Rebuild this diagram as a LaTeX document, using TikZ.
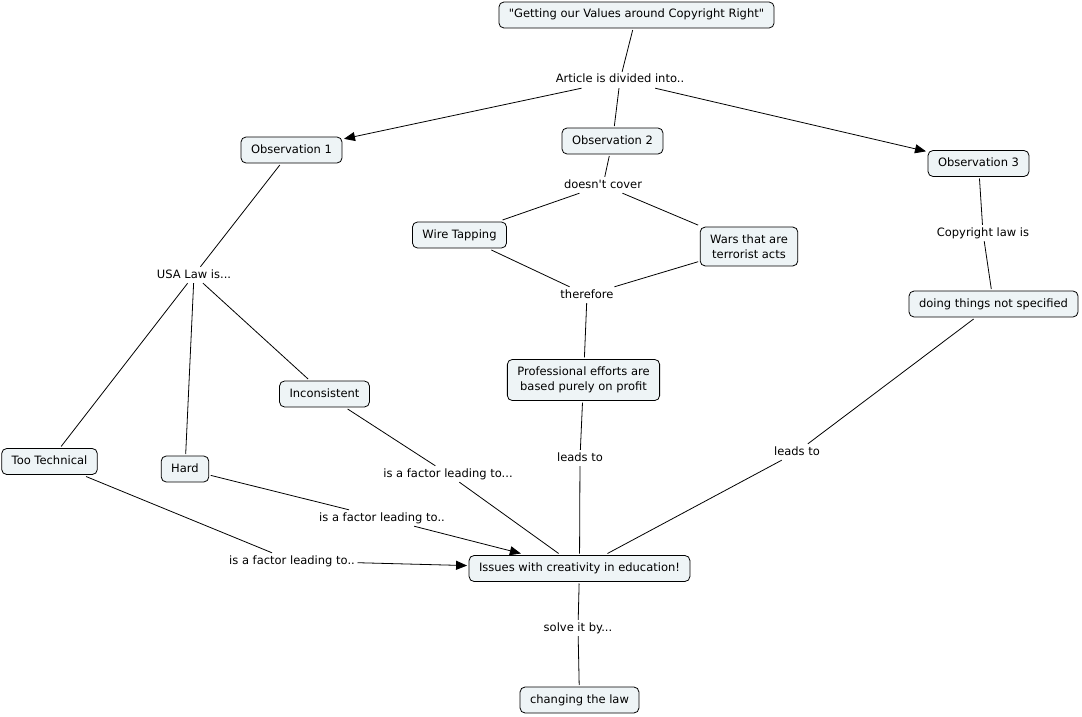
\documentclass[tikz,border=0pt]{standalone}
\usepackage{fontspec}
\setmainfont{DejaVu Sans}
\usepackage{xcolor}
\usetikzlibrary{arrows.meta}
\definecolor{conceptfill}{RGB}{238,244,246}

\begin{document}
\begin{tikzpicture}
[x=1pt, y=-1pt, font=\fontsize{11.5}{15}\selectfont,
    conceptbox/.style={rectangle, rounded corners=5pt, draw=black, fill=conceptfill,
    line width=0.8pt, inner xsep=10pt, inner ysep=7.5pt, align=center, outer sep=2pt},
    concept/.style={conceptbox, text height=8.5pt, text depth=2.5pt},
    phrase/.style={inner sep=2.5pt, text height=8.5pt, text depth=2.5pt},
    link/.style={draw=black, line width=0.8pt},
    arrow/.style={link, -{Triangle[length=11pt, width=9pt]}}
    ]
    \useasboundingbox (0,0) rectangle (1082,717);

    \node[concept] (title) at (636.5,15) {\textquotedbl Getting our Values around Copyright Right\textquotedbl};
    \node[phrase] (divided) at (620,80) {Article is divided into..};
    \node[concept] (obsA) at (291.5,150) {Observation 1};
    \node[concept] (obsB) at (612.5,141) {Observation 2};
    \node[concept] (obsC) at (978.5,163.5) {Observation 3};
    \node[phrase] (cover) at (603,185) {doesn\textquotesingle t cover};
    \node[concept] (wire) at (459.5,235) {Wire Tapping};
    \node[conceptbox] (wars) at (749,246.5) {Wars that are\\ terrorist acts};
    \node[phrase] (therefore) at (587,295) {therefore};
    \node[conceptbox] (profit) at (583.5,380) {Professional efforts are\\ based purely on profit};
    \node[phrase] (copylaw) at (983,233) {Copyright law is};
    \node[concept] (notspec) at (993.5,304) {doing things not specified};
    \node[phrase] (usa) at (194,275) {USA Law is...};
    \node[concept] (incon) at (324.5,394) {Inconsistent};
    \node[concept] (tootech) at (49.5,461.5) {Too Technical};
    \node[concept] (hard) at (185,469) {Hard};
    \node[phrase] (factorA) at (448,474) {is a factor leading to...};
    \node[phrase] (factorB) at (382,518) {is a factor leading to..};
    \node[phrase] (factorC) at (292,561) {is a factor leading to..};
    \node[phrase] (leadsB) at (580,458) {leads to};
    \node[phrase] (leadsC) at (797,452) {leads to};
    \node[concept] (issues) at (579.5,568.5) {Issues with creativity in education!};
    \node[phrase] (solve) at (578,628) {solve it by...};
    \node[concept] (law) at (579.5,700) {changing the law};

    \draw[link] (title) -- (divided);
    \draw[link] (divided) -- (obsB);
    \draw[arrow] (divided) -- (obsA);
    \draw[arrow] (divided) -- (obsC);
    \draw[link] (obsB) -- (cover);
    \draw[link] (cover) -- (wire);
    \draw[link] (cover) -- (wars);
    \draw[link] (wire) -- (therefore);
    \draw[link] (wars) -- (therefore);
    \draw[link] (therefore) -- (profit);
    \draw[link] (profit) -- (leadsB);
    \draw[link] (leadsB) -- (issues);
    \draw[link] (obsC) -- (copylaw);
    \draw[link] (copylaw) -- (notspec);
    \draw[link] (notspec) -- (leadsC);
    \draw[link] (leadsC) -- (issues);
    \draw[link] (obsA) -- (usa);
    \draw[link] (usa) -- (tootech);
    \draw[link] (usa) -- (hard);
    \draw[link] (usa) -- (incon);
    \draw[link] (incon) -- (factorA);
    \draw[link] (factorA) -- (issues);
    \draw[link] (hard) -- (factorB);
    \draw[arrow] (factorB) -- (issues);
    \draw[link] (tootech) -- (factorC);
    \draw[arrow] (factorC) -- (issues);
    \draw[link] (issues) -- (solve);
    \draw[link] (solve) -- (law);
\end{tikzpicture}
\end{document}
